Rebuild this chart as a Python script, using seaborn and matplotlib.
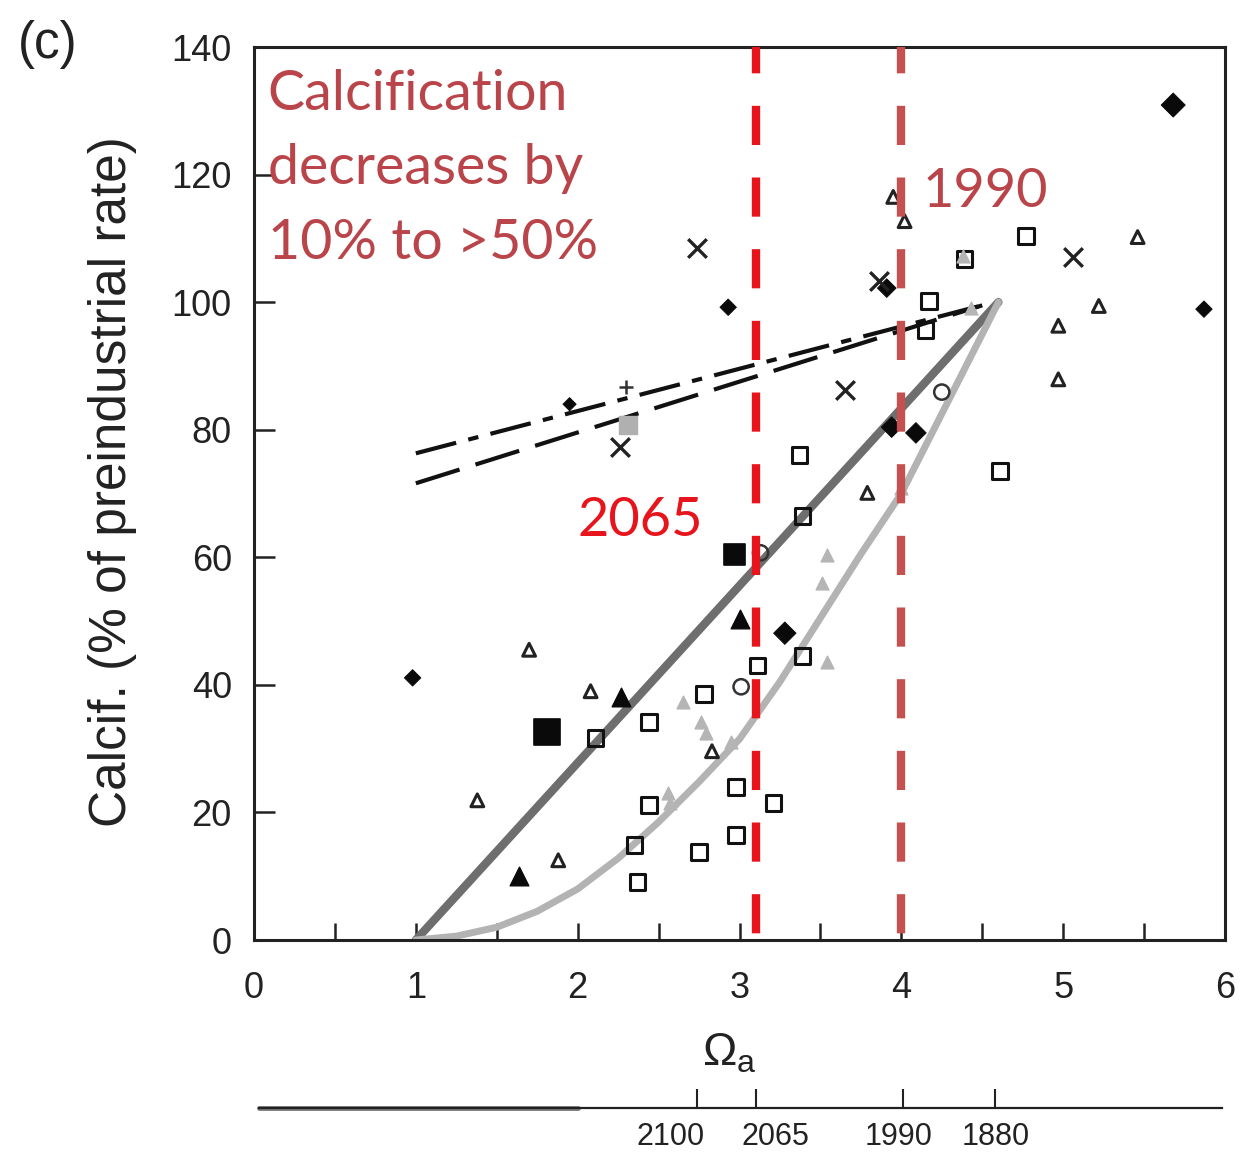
import numpy as np
import pandas as pd
import matplotlib
matplotlib.use("Agg")
import matplotlib.pyplot as plt
import seaborn as sns

# ---------------- data ----------------
# filled black diamonds
dia_x = [5.68, 5.87, 2.93, 0.98, 1.95, 3.91, 3.94, 4.09, 3.28]
dia_y = [130.9, 98.9, 99.2, 41.1, 84.0, 102.2, 80.4, 79.5, 48.1]
dia_s = [150, 70, 70, 70, 45, 90, 110, 110, 130]
# crosses
crs_x = [2.74, 2.26, 3.65, 5.06, 3.86]
crs_y = [108.5, 77.3, 86.2, 107.1, 103.3]
# plus
pls_x = [2.30]
pls_y = [86.7]
# open triangles
otr_x = [1.70, 2.08, 1.38, 1.88, 2.83, 3.95, 4.02, 3.79, 5.46, 5.22, 4.97, 4.97]
otr_y = [45.5, 39.0, 21.9, 12.5, 29.6, 116.5, 112.7, 70.1, 110.2, 99.4, 96.3, 87.9]
# filled black triangles
ftr_x = [2.27, 1.64, 3.00]
ftr_y = [38.1, 10.0, 50.3]
# grey triangles
gtr_x = [2.65, 2.76, 2.79, 2.95, 2.56, 2.57, 3.54, 3.51, 3.54, 4.38, 4.43, 4.00]
gtr_y = [37.3, 34.2, 32.5, 31.0, 23.0, 21.5, 60.4, 56.0, 43.6, 107.2, 99.1, 70.9]
# filled black squares
fsq_x = [1.81, 2.97]
fsq_y = [32.6, 60.4]
fsq_s = [330, 220]
# grey square
gsq_x = [2.31]
gsq_y = [80.7]
# open squares
osq_x = [4.77, 4.17, 4.15, 4.39, 3.37, 3.39, 4.61, 3.39, 3.11, 2.78, 2.44, 2.11,
         2.44, 2.98, 3.21, 2.35, 2.75, 2.98, 2.37]
osq_y = [110.4, 100.2, 95.6, 106.8, 76.0, 66.5, 73.5, 44.5, 43.0, 38.6, 34.2, 31.7,
         21.2, 24.0, 21.5, 14.9, 13.8, 16.5, 9.1]
# open circles
ocl_x = [4.25, 3.01, 3.13]
ocl_y = [85.9, 39.7, 60.7]

# fitted relations
lin_x = [1.0, 4.6]
lin_y = [0.0, 100.0]
cur_x = [1.0, 1.25, 1.5, 1.75, 2.0, 2.25, 2.5, 2.75, 3.0, 3.25, 3.5, 3.75, 4.0, 4.15, 4.3, 4.45, 4.6]
cur_y = [0.0, 0.6, 2.0, 4.5, 8.0, 12.8, 18.5, 24.8, 31.5, 40.5, 50.5, 60.5, 70.0, 77.5, 85.0, 92.5, 100.0]
dd_x = [1.0, 4.5]
dd_y = [76.3, 99.5]
ds_x = [1.0, 4.5]
ds_y = [71.6, 99.5]

# reference years
vline_x = [3.1, 4.0]
year_pos = [2.74, 3.10, 4.01, 4.58]
year_lab = ["2100", "2065", "1990", "1880"]

x_ticks = [0, 1, 2, 3, 4, 5, 6]
y_ticks = [0, 20, 40, 60, 80, 100, 120, 140]

# ---------------- style ----------------
sns.set_theme(style="ticks")
plt.rcParams['font.family'] = ['Liberation Sans', 'DejaVu Sans']
plt.rcParams['mathtext.fontset'] = 'custom'
plt.rcParams['mathtext.rm'] = 'Liberation Sans'
plt.rcParams['mathtext.it'] = 'Liberation Sans:italic'
plt.rcParams['mathtext.bf'] = 'Liberation Sans:bold'

fig = plt.figure(figsize=(12.42, 11.53), dpi=100)
fig.patch.set_facecolor('white')
L, R, B, T = 254 / 1242, 1225 / 1242, 1 - 940 / 1153, 1 - 47 / 1153
ax = fig.add_axes([L, B, R - L, T - B])

# lines
sns.lineplot(x=lin_x, y=lin_y, ax=ax, color='#6e6e6e', lw=6, sort=False, zorder=2,
             solid_capstyle='round')
sns.lineplot(x=cur_x, y=cur_y, ax=ax, color='#b3b3b3', lw=5, sort=False, zorder=2,
             solid_capstyle='round')
sns.lineplot(x=dd_x, y=dd_y, ax=ax, color='#111111', lw=3, sort=False, zorder=2,
             linestyle=(0, (10, 3, 2.5, 3)))
sns.lineplot(x=ds_x, y=ds_y, ax=ax, color='#111111', lw=3, sort=False, zorder=2,
             linestyle=(0, (11, 4)))

def pts(xs, ys, **kw):
    df = pd.DataFrame({'omega': xs, 'calc': ys})
    sns.scatterplot(data=df, x='omega', y='calc', ax=ax, legend=False, zorder=3, **kw)

pts(osq_x, osq_y, marker='s', s=125, facecolor='none', edgecolor='#111111', linewidth=2.2)
pts(otr_x, otr_y, marker='^', s=85, facecolor='none', edgecolor='#222222', linewidth=2.2)
pts(ocl_x, ocl_y, marker='o', s=120, facecolor='none', edgecolor='#333333', linewidth=1.8)
pts(gtr_x, gtr_y, marker='^', s=85, facecolor='#b5b5b5', edgecolor='#b5b5b5', linewidth=1)
pts(gsq_x, gsq_y, marker='s', s=150, facecolor='#b0b0b0', edgecolor='#b0b0b0', linewidth=1)
pts(ftr_x, ftr_y, marker='^', s=180, facecolor='#0a0a0a', edgecolor='#0a0a0a', linewidth=1)
df = pd.DataFrame({'omega': fsq_x, 'calc': fsq_y, 'sz': fsq_s})
sns.scatterplot(data=df, x='omega', y='calc', size='sz', sizes=(min(fsq_s), max(fsq_s)),
                marker='s', color='#0a0a0a', edgecolor='#0a0a0a', legend=False, ax=ax, zorder=3)
df = pd.DataFrame({'omega': dia_x, 'calc': dia_y, 'sz': dia_s})
sns.scatterplot(data=df, x='omega', y='calc', size='sz', sizes=(min(dia_s), max(dia_s)),
                marker='D', color='#0a0a0a', edgecolor='#0a0a0a', legend=False, ax=ax, zorder=3)
pts(crs_x, crs_y, marker='x', s=180, color='#222222', linewidth=2.4)
pts(pls_x, pls_y, marker='+', s=110, color='#333333', linewidth=1.8)

# red reference lines
ax.axvline(vline_x[0], color='#e8141c', lw=6, linestyle=(7.8, (4.7, 3.9)), zorder=5)
ax.axvline(vline_x[1], color='#c4504f', lw=6, linestyle=(7.8, (4.7, 3.9)), zorder=5)

# annotations
ann_font = ['Lato', 'DejaVu Sans']
ax.text(0.085, 136.6, "Calcification\ndecreases by\n10% to >50%", color='#b9454a',
        fontsize=40, family=ann_font, ha='left', va='top', linespacing=1.58, zorder=6)
ax.text(4.52, 117.4, "1990", color='#b9454a', fontsize=39, family=ann_font,
        ha='center', va='center', zorder=6)
ax.text(2.386, 65.8, "2065", color='#e8141c', fontsize=39, family=ann_font,
        ha='center', va='center', zorder=6)

# axes
ax.set_xlim(0, 6)
ax.set_ylim(0, 140)
ax.set_xticks(x_ticks)
ax.set_xticks(np.arange(0.5, 6, 1.0), minor=True)
ax.set_yticks(y_ticks)
ax.tick_params(axis='x', which='both', direction='in', length=12, width=1.8, color='#222222',
               labelsize=26, pad=22, top=False)
ax.tick_params(axis='y', which='both', direction='in', length=15, width=1.8, color='#222222',
               labelsize=26, pad=16, right=False)
for lab in ax.get_xticklabels() + ax.get_yticklabels():
    lab.set_color('#222222')
for sp in ax.spines.values():
    sp.set_linewidth(2.2)
    sp.set_color('#222222')
    sp.set_visible(True)
ax.set_ylabel("Calcif. (% of preindustrial rate)", fontsize=37, color='#222222')
ax.yaxis.set_label_coords(-0.12, 0.513)
ax.set_xlabel(r"$\Omega_\mathrm{a}$", fontsize=33, color='#222222')
ax.xaxis.set_label_coords(0.49, -0.103)

# panel letter
fig.text(0.038, 0.961, "(c)", fontsize=37, ha='center', va='center', color='#222222')

# year axis underneath
yb = 1 - 1108 / 1153
ax2 = fig.add_axes([L, yb, R - L, 0.0005])
ax2.set_xlim(0, 6)
ax2.set_ylim(0, 1)
for s in ['top', 'left', 'right']:
    ax2.spines[s].set_visible(False)
ax2.spines['bottom'].set_bounds(0.03, 5.98)
ax2.spines['bottom'].set_linewidth(1.6)
ax2.spines['bottom'].set_color('#222222')
ax2.set_yticks([])
ax2.set_facecolor('none')
sns.lineplot(x=[0.03, 2.0], y=[0.0, 0.0], ax=ax2, color='#7a7a7a', lw=3.5, clip_on=False)
ax2.set_xticks(year_pos)
ax2.set_xticklabels([])
ax2.tick_params(axis='x', direction='in', length=14, width=1.5, color='#222222')
ax2.set_xlabel('')
# year labels are nudged sideways so they do not collide (as in the original)
lab_shift = [-0.165, 0.12, -0.03, 0.0]
for xp, dx, txt in zip(year_pos, lab_shift, year_lab):
    ax2.annotate(txt, xy=(xp + dx, 0), xycoords='data', xytext=(0, -29),
                 textcoords='offset pixels', ha='center', va='center',
                 fontsize=22, color='#222222', annotation_clip=False)

fig.savefig("out.png", dpi=100, facecolor='white')
